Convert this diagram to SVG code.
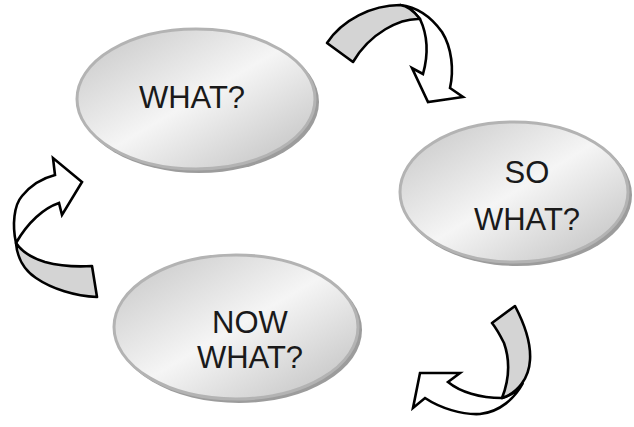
<svg xmlns="http://www.w3.org/2000/svg" width="634" height="427" viewBox="0 0 634 427">
<style>
.lbl{font-family:"Liberation Sans",Arial,sans-serif;font-size:31px;fill:#1a1a1a;text-anchor:middle}
.shadow{fill:#9c9c9c}
.rim{fill:url(#g);stroke:#b3b3b3;stroke-width:3}
.band{fill:#d4d4d4;stroke:#000;stroke-width:2.6;stroke-linejoin:round}
.head{fill:#fff;stroke:#000;stroke-width:2.6;stroke-linejoin:miter}
</style>
<defs>
<linearGradient id="g" x1="0" y1="0" x2="1" y2="1">
<stop offset="0" stop-color="#c4c4c4"/>
<stop offset="0.5" stop-color="#f5f5f5"/>
<stop offset="1" stop-color="#bdbdbd"/>
</linearGradient>
</defs>
<rect width="634" height="427" fill="#fff"/>
<g id="node-what">
<ellipse class="shadow" cx="199" cy="102" rx="120" ry="71"/>
<ellipse class="rim" cx="196" cy="99" rx="119" ry="70"/>
<text class="lbl" x="192" y="108">WHAT?</text>
</g>
<g id="node-sowhat">
<ellipse class="shadow" cx="517" cy="195" rx="115" ry="71"/>
<ellipse class="rim" cx="514" cy="192" rx="114" ry="70"/>
<text class="lbl" x="527" y="183">SO</text>
<text class="lbl" x="527" y="230">WHAT?</text>
</g>
<g id="node-nowwhat">
<ellipse class="shadow" cx="239" cy="330" rx="123" ry="73"/>
<ellipse class="rim" cx="236" cy="327" rx="122" ry="72"/>
<text class="lbl" x="250" y="333">NOW</text>
<text class="lbl" x="250" y="368">WHAT?</text>
</g>
<g id="connectors">
<g id="arrow-what-sowhat">
<path class="head" d="M400,5 C418,7 432,18 442,32 C452,48 454,70 450,88 L463,97 L428,102 L412,68 L423,74 C428,56 428,36 420,19 C414,11 408,6 400,5 Z"/>
<path class="band" d="M327,43 C342,20 372,5 400,5 C408,6 414,11 420,19 C400,18 370,33 353,62 Z"/>
</g>
<g id="arrow-sowhat-nowwhat">
<path class="head" d="M523,383 C515,398 500,412 480,414 C462,415 440,408 425,398 L413,408 L420,373 L460,373 L448,382 C460,392 480,398 502,398 C512,395 519,389 523,383 Z"/>
<path class="band" d="M492,323 L515,306 C525,325 531,345 530,360 C529,378 518,393 502,398 C509,380 510,360 504,343 C500,335 496,328 492,323 Z"/>
</g>
<g id="arrow-nowwhat-what">
<path class="head" d="M16,243 C12,225 14,205 22,196 C31,185 43,178 55,175 L53,158 L82,182 L62,215 L59,203 C44,208 28,222 16,243 Z"/>
<path class="band" d="M92,266 L97,297 C75,296 52,289 36,278 C24,270 17,257 16,243 C22,252 32,258 45,262 C60,266 76,267 92,266 Z"/>
</g>
</g>
</svg>
